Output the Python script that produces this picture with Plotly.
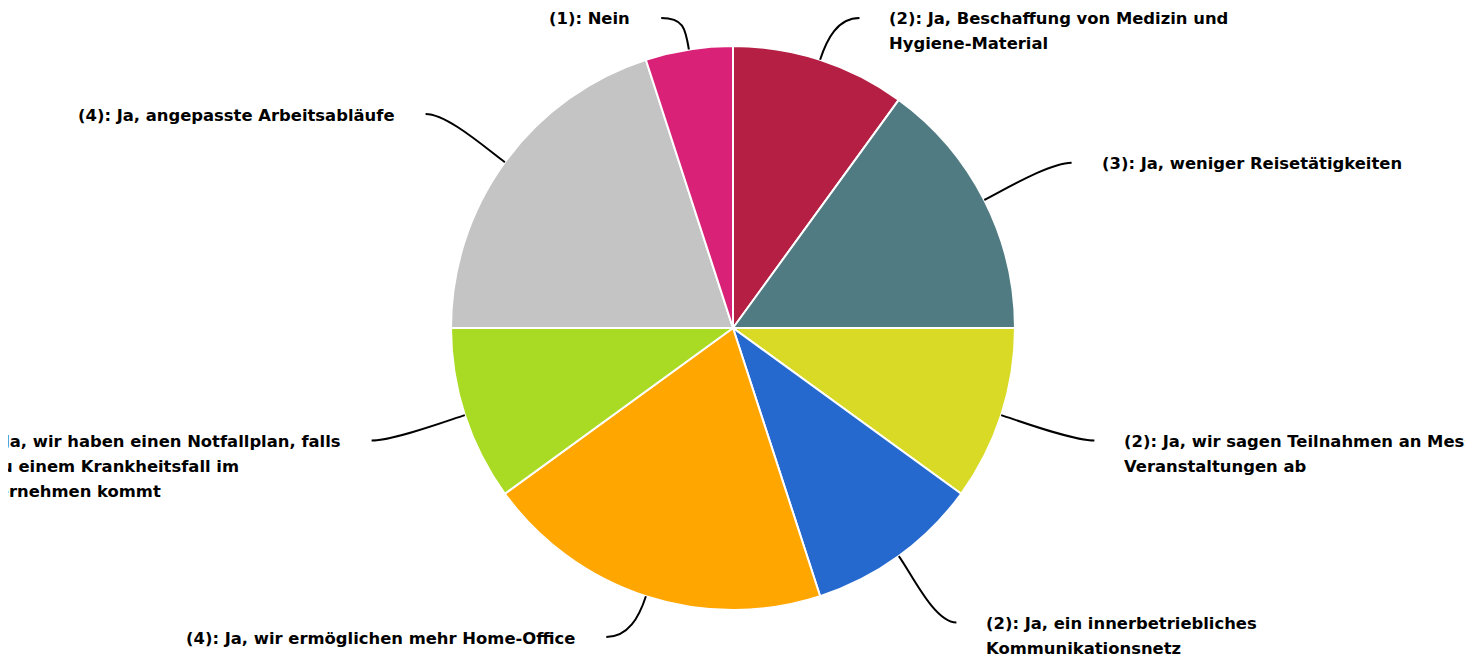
"""Pie chart of company measures with outside labels and curved connectors."""

import math

import plotly.graph_objects as go

answers = [
    "(2): Ja, Beschaffung von Medizin und<br>Hygiene-Material",
    "(3): Ja, weniger Reisetätigkeiten",
    "(2): Ja, wir sagen Teilnahmen an Messen und<br>Veranstaltungen ab",
    "(2): Ja, ein innerbetriebliches<br>Kommunikationsnetz",
    "(4): Ja, wir ermöglichen mehr Home-Office",
    "(2): Ja, wir haben einen Notfallplan, falls<br>es zu einem Krankheitsfall im<br>Unternehmen kommt",
    "(4): Ja, angepasste Arbeitsabläufe",
    "(1): Nein",
]
counts = [2, 3, 2, 2, 4, 2, 4, 1]
colors = ["#b51f44", "#517b82", "#d9da26", "#2569ce", "#ffa600", "#aadb24", "#c4c4c4", "#d92178"]

W, H = 1473, 657
OFF = 8  # page body margin, so axis units equal screen pixels
CX, CY, R = 733, 328, 282
LABEL_RX, LABEL_RY = 380, 364
Y_MIN, Y_MAX = 18, 637
LINE_GAP = 25
TEXT_SIZE = 16.4

fig = go.Figure()
fig.add_trace(
    go.Pie(
        labels=answers,
        values=counts,
        sort=False,
        direction="clockwise",
        rotation=0,
        textinfo="none",
        marker=dict(colors=colors, line=dict(color="#ffffff", width=2)),
        domain=dict(
            x=[(CX - OFF - R) / W, (CX - OFF + R) / W],
            y=[(H - (CY - OFF) - R) / H, (H - (CY - OFF) + R) / H],
        ),
        showlegend=False,
    )
)

total = sum(counts)
cum = 0
for text, v in zip(answers, counts):
    lines = text.split("<br>")
    a = math.radians((cum + v / 2) / total * 360)
    cum += v
    side = 1 if math.sin(a) >= 0 else -1
    sx, sy = CX + R * math.sin(a), CY - R * math.cos(a)
    ey_raw = CY - LABEL_RY * math.cos(a)
    # keep labels inside the chart; pushed labels slide a bit further out
    ey = min(max(ey_raw, Y_MIN), Y_MAX)
    ex = CX + LABEL_RX * math.sin(a) + side * 0.25 * abs(ey - ey_raw)
    # soft connector: leave the slice radially, arrive horizontally
    c1x, c1y = sx + 22 * math.sin(a), sy - 22 * math.cos(a)
    c2x, c2y = ex - side * 22, ey
    fig.add_shape(
        type="path",
        path=f"M {sx:.1f},{sy:.1f} C {c1x:.1f},{c1y:.1f} {c2x:.1f},{c2y:.1f} {ex:.1f},{ey:.1f}",
        xref="x", yref="y",
        line=dict(color="#000000", width=2),
    )
    tx = ex + 28 if side > 0 else ex - 29
    ty = ey - LINE_GAP / 2 + 2
    # bigger outer font sets the line gap, inner spans set the glyph size
    body = "<br>".join(f"<span style='font-size:{TEXT_SIZE}px'>{ln}</span>" for ln in lines)
    fig.add_annotation(
        x=(tx - OFF) / W, y=1 - (ty - OFF) / H, xref="paper", yref="paper",
        text=f"<b>{body}</b>", showarrow=False,
        xanchor="left" if side > 0 else "right", yanchor="top",
        align="left",
        font=dict(family="DejaVu Sans", size=LINE_GAP / 1.3, color="#000000"),
    )

fig.update_layout(
    width=W, height=H,
    margin=dict(l=0, r=0, t=0, b=0),
    paper_bgcolor="#ffffff", plot_bgcolor="#ffffff",
    xaxis=dict(range=[OFF, W + OFF], visible=False, fixedrange=True),
    yaxis=dict(range=[H + OFF, OFF], visible=False, fixedrange=True),
)
fig.write_html("out.html")
